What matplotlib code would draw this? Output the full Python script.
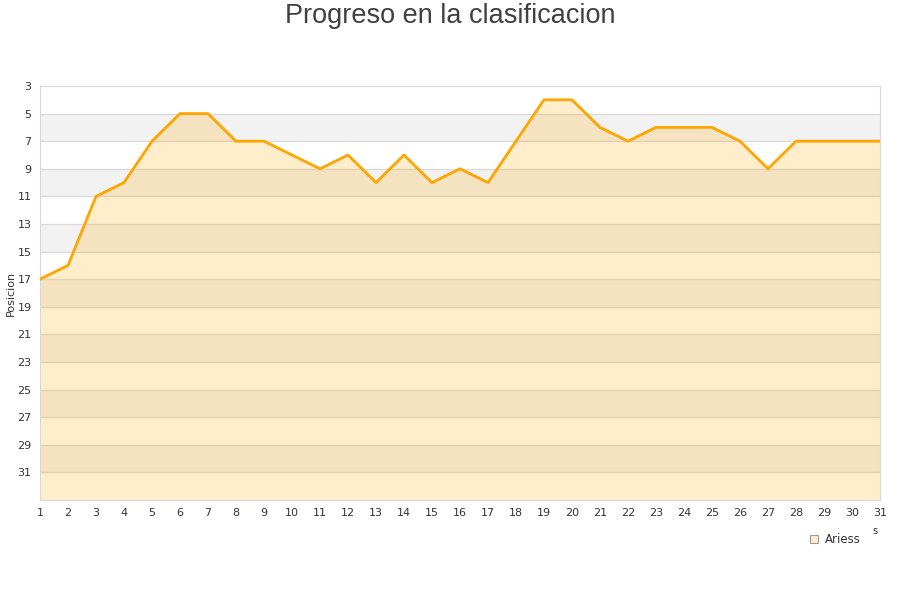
import matplotlib.pyplot as plt
from matplotlib.patches import Patch

# ---------------------------------------------------------------------------
jornadas  = list(range(1, 32))
posicion  = [17, 16, 11, 10, 7, 5, 5, 7, 7, 8, 9, 8, 10, 8, 10, 9,
             10, 7, 4, 4, 6, 7, 6, 6, 6, 7, 9, 7, 7, 7, 7]
y_ticks   = list(range(3, 32, 2))
team_name = "Ariess"
title     = "Progreso en la clasificacion"

LINE_COLOR = "#ffa500"
FILL_COLOR = "#ffa500"
BAND_COLOR = "#f2f2f2"
GRID_COLOR = "#dcdcdc"
TEXT_COLOR = "#333333"

Y_TOP, Y_BOTTOM = 3, 33

fig = plt.figure(figsize=(9, 6), dpi=100)
ax = fig.add_axes([40 / 900, 1 - 500 / 600, 840 / 900, 414 / 600])

# alternating bands
for lo in range(5, Y_BOTTOM, 4):
    ax.axhspan(lo, lo + 2, color=BAND_COLOR, lw=0, zorder=0)
for y in y_ticks[1:]:
    ax.axhline(y, color=GRID_COLOR, lw=1, zorder=0.5)

ax.fill_between(jornadas, posicion, Y_BOTTOM, color=FILL_COLOR, alpha=0.2,
                lw=0, zorder=1)
ax.plot(jornadas, posicion, color=LINE_COLOR, lw=2, zorder=3)

ax.set_xlim(1, 31)
ax.set_ylim(Y_BOTTOM, Y_TOP)
ax.set_xticks(jornadas)
ax.set_yticks(y_ticks)
ax.tick_params(length=0, labelsize=8, labelcolor=TEXT_COLOR, pad=6)
for s in ax.spines.values():
    s.set_color("#d8d8d8")
    s.set_linewidth(0.8)

ax.set_ylabel("Posicion", fontsize=8, color=TEXT_COLOR)
ax.yaxis.set_label_coords(-0.029, 0.5)
fig.text(0.5, 1 - 16 / 600, title, fontsize=19.5, color="#404040",
         family="Liberation Sans", ha="center", va="center")

leg = ax.legend(handles=[Patch(facecolor="#ffeccc", edgecolor="#999999",
                               lw=0.8, label=team_name)],
                loc="upper right", bbox_to_anchor=(0.99, -0.055),
                frameon=False, fontsize=8.5, handlelength=0.7, handleheight=0.7,
                handletextpad=0.6)
for t in leg.get_texts():
    t.set_color(TEXT_COLOR)
fig.text(875 / 900, 1 - 531 / 600, "s", fontsize=7, color=TEXT_COLOR,
         ha="center", va="center")

fig.savefig("out.png", dpi=100)
